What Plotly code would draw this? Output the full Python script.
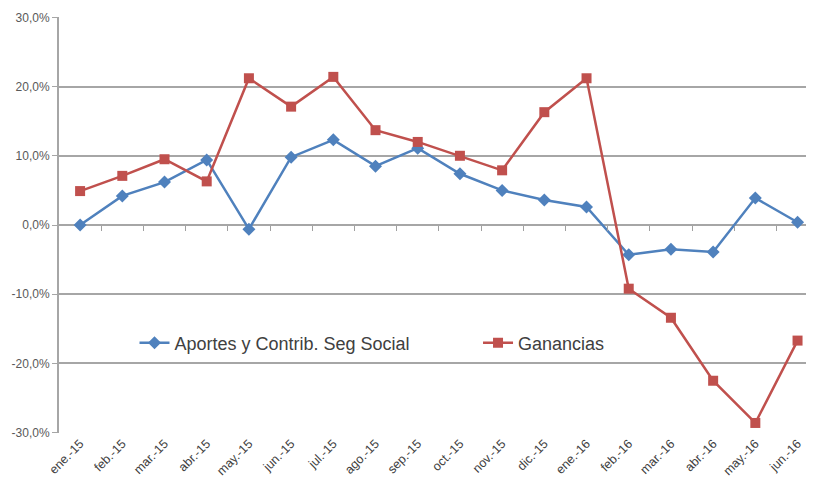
import plotly.graph_objects as go

meses = ["ene.-15", "feb.-15", "mar.-15", "abr.-15", "may.-15", "jun.-15", "jul.-15",
         "ago.-15", "sep.-15", "oct.-15", "nov.-15", "dic.-15", "ene.-16", "feb.-16",
         "mar.-16", "abr.-16", "may.-16", "jun.-16"]
aportes = [0.0, 4.2, 6.2, 9.4, -0.6, 9.8, 12.3, 8.5, 11.1, 7.4, 5.0, 3.6, 2.6,
           -4.3, -3.5, -3.9, 3.9, 0.4]
ganancias = [4.9, 7.1, 9.5, 6.3, 21.2, 17.1, 21.4, 13.7, 12.0, 10.0, 7.9, 16.3, 21.2,
             -9.2, -13.4, -22.5, -28.6, -16.7]
y_ticks = [-30, -20, -10, 0, 10, 20, 30]
y_labels = ["-30,0%", "-20,0%", "-10,0%", "0,0%", "10,0%", "20,0%", "30,0%"]

idx = list(range(len(meses)))

fig = go.Figure()
fig.add_trace(go.Scatter(
    x=idx, y=aportes, name="Aportes y Contrib. Seg Social", mode="lines+markers",
    line=dict(color="#4F81BD", width=2.5),
    marker=dict(symbol="diamond", size=10, color="#4F81BD"), legend="legend"))
fig.add_trace(go.Scatter(
    x=idx, y=ganancias, name="Ganancias", mode="lines+markers",
    line=dict(color="#C0504D", width=2.5),
    marker=dict(symbol="square", size=10, color="#C0504D"), legend="legend2"))
# helper trace for the tick-mark axis at zero
fig.add_trace(go.Scatter(x=[None], y=[None], xaxis="x2", showlegend=False, hoverinfo="skip"))

xr = [-0.5, 17.39]
leg_font = dict(size=18, color="#404040", family="Liberation Sans, Arial, sans-serif")
fig.update_layout(
    width=806, height=477,
    margin=dict(l=51, r=0, t=9, b=52, autoexpand=False),
    paper_bgcolor="white", plot_bgcolor="white",
    font=dict(family="Liberation Sans, Arial, sans-serif", color="#595959"),
    xaxis=dict(
        range=xr, tickmode="array", tickvals=idx, ticktext=meses, tickangle=-45,
        showgrid=False, showline=False, zeroline=False, ticks="", automargin=False,
        tickfont=dict(size=12.5, color="#404040"),
    ),
    xaxis2=dict(
        overlaying="x", anchor="free", position=0.5, range=xr,
        tickmode="array", tickvals=[i + 0.5 for i in idx[:-1]], ticktext=[""] * (len(idx) - 1),
        ticks="outside", ticklen=5, tickcolor="#a0a0a0", tickwidth=1,
        showgrid=False, showline=False, zeroline=False, showticklabels=False,
    ),
    yaxis=dict(
        range=[-30.05, 30.05], tickmode="array", tickvals=y_ticks, ticktext=y_labels,
        showgrid=True, gridcolor="#a6a6a6", gridwidth=1.5, zeroline=False,
        showline=True, linecolor="#a6a6a6", linewidth=2, automargin=False,
        ticks="outside", ticklen=5, tickcolor="#a6a6a6",
        tickfont=dict(size=12, color="#595959"),
    ),
    legend=dict(
        x=0.1, xanchor="left", y=0.216, yanchor="middle",
        bgcolor="rgba(255,255,255,0)", font=leg_font, itemwidth=30,
    ),
    legend2=dict(
        x=0.555, xanchor="left", y=0.216, yanchor="middle",
        bgcolor="rgba(255,255,255,0)", font=leg_font, itemwidth=30,
    ),
    showlegend=True,
)

fig.write_html("out.html")
